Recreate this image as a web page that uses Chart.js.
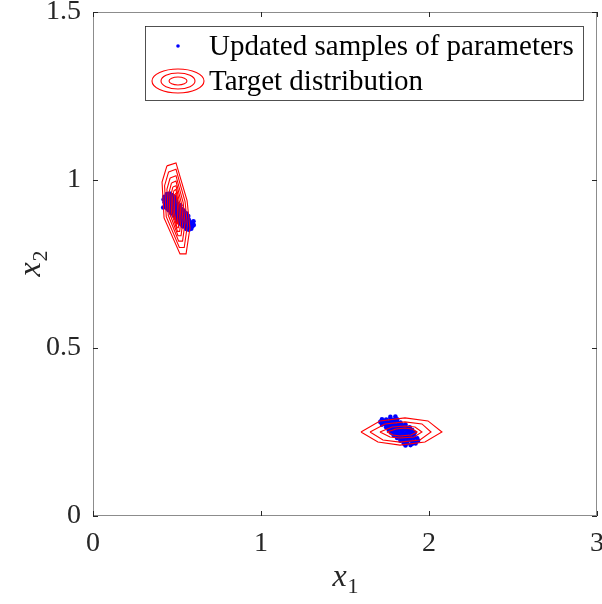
<!DOCTYPE html>
<html>
<head>
<meta charset="utf-8">
<script src="https://cdn.jsdelivr.net/npm/chart.js@4/dist/chart.umd.min.js"></script>
<style>
  html, body { margin: 0; padding: 0; background: #fff; }
  canvas { display: block; }
</style>
</head>
<body>
<canvas id="chart" width="602" height="604"></canvas>
<script>
// axis ranges and tick labels
const xTicks = [0, 1, 2, 3];
const yTicks = [0, 0.5, 1, 1.5];

// updated samples of parameters (x1, x2)
const samplesLeft = [
  [0.44,0.958],[0.456,0.960],[0.47,0.955],
  [0.425,0.950],[0.44,0.948],[0.455,0.951],[0.47,0.947],[0.486,0.949],
  [0.42,0.942],[0.434,0.940],[0.45,0.943],[0.466,0.939],[0.48,0.942],[0.494,0.938],
  [0.426,0.934],[0.44,0.932],[0.456,0.935],[0.47,0.931],[0.485,0.934],[0.50,0.930],
  [0.43,0.926],[0.446,0.924],[0.46,0.927],[0.475,0.923],[0.49,0.926],[0.505,0.922],[0.52,0.925],
  [0.418,0.918],[0.44,0.916],[0.455,0.919],[0.47,0.915],[0.485,0.918],[0.50,0.914],[0.515,0.917],[0.53,0.913],
  [0.45,0.910],[0.465,0.908],[0.48,0.911],[0.495,0.907],[0.51,0.910],[0.525,0.906],[0.54,0.909],
  [0.465,0.902],[0.48,0.900],[0.495,0.903],[0.51,0.899],[0.525,0.902],[0.54,0.898],[0.555,0.901],
  [0.48,0.894],[0.495,0.892],[0.51,0.895],[0.525,0.891],[0.54,0.894],[0.555,0.890],[0.567,0.893],
  [0.495,0.886],[0.51,0.884],[0.525,0.887],[0.54,0.883],[0.555,0.886],[0.57,0.882],
  [0.505,0.878],[0.52,0.876],[0.535,0.879],[0.55,0.875],[0.565,0.878],[0.58,0.874],[0.598,0.877],
  [0.52,0.870],[0.535,0.868],[0.55,0.871],[0.565,0.867],[0.58,0.870],[0.60,0.866],
  [0.535,0.862],[0.55,0.860],[0.565,0.863],[0.58,0.859],[0.592,0.862],
  [0.555,0.854],[0.57,0.852],[0.585,0.855]
];
const samplesRight = [
  [1.77,0.295],[1.80,0.296],
  [1.72,0.288],[1.745,0.287],[1.77,0.289],[1.79,0.286],[1.81,0.288],
  [1.71,0.280],[1.73,0.281],[1.75,0.279],[1.77,0.282],[1.79,0.279],[1.81,0.281],[1.83,0.278],
  [1.72,0.272],[1.74,0.273],[1.76,0.271],[1.78,0.273],[1.80,0.270],[1.82,0.273],[1.84,0.271],[1.86,0.272],
  [1.745,0.264],[1.765,0.265],[1.785,0.263],[1.805,0.265],[1.825,0.262],[1.845,0.265],[1.865,0.263],[1.885,0.264],
  [1.76,0.256],[1.78,0.257],[1.80,0.255],[1.82,0.257],[1.84,0.254],[1.86,0.257],[1.88,0.255],[1.90,0.256],
  [1.775,0.248],[1.795,0.249],[1.815,0.247],[1.835,0.249],[1.855,0.246],[1.875,0.249],[1.895,0.247],[1.915,0.248],
  [1.79,0.240],[1.81,0.241],[1.83,0.239],[1.85,0.241],[1.87,0.238],[1.89,0.241],[1.91,0.239],
  [1.81,0.232],[1.83,0.233],[1.85,0.231],[1.87,0.233],[1.89,0.230],[1.91,0.233],[1.93,0.231],
  [1.83,0.224],[1.85,0.225],[1.87,0.223],[1.89,0.225],[1.91,0.222],[1.935,0.224],
  [1.85,0.216],[1.87,0.217],[1.90,0.215],[1.92,0.216],
  [1.86,0.210],[1.89,0.211]
];

// contour levels of the target distribution (closed polygons, data units)
const contoursLeft = [
  [[0.440,1.042],[0.494,1.051],[0.560,0.939],[0.577,0.857],[0.554,0.780],[0.518,0.780],[0.423,0.887],[0.411,0.994],[0.440,1.042]],
  [[0.450,1.024],[0.494,1.032],[0.548,0.936],[0.562,0.865],[0.543,0.799],[0.514,0.799],[0.436,0.891],[0.426,0.983],[0.450,1.024]],
  [[0.459,1.006],[0.494,1.013],[0.537,0.932],[0.548,0.873],[0.533,0.818],[0.510,0.818],[0.448,0.895],[0.440,0.972],[0.459,1.006]],
  [[0.467,0.991],[0.494,0.997],[0.527,0.929],[0.536,0.880],[0.524,0.834],[0.506,0.834],[0.458,0.898],[0.452,0.962],[0.467,0.991]],
  [[0.475,0.979],[0.494,0.983],[0.518,0.927],[0.524,0.886],[0.516,0.847],[0.503,0.847],[0.468,0.901],[0.464,0.955],[0.475,0.979]],
  [[0.481,0.968],[0.494,0.972],[0.510,0.925],[0.514,0.891],[0.508,0.858],[0.500,0.858],[0.477,0.903],[0.474,0.948],[0.481,0.968]],
  [[0.488,0.958],[0.494,0.961],[0.502,0.923],[0.504,0.895],[0.501,0.869],[0.497,0.869],[0.485,0.905],[0.484,0.942],[0.488,0.958]]
];
const contoursRight = [
  [[1.595,0.250],[1.708,0.283],[1.857,0.292],[1.994,0.283],[2.077,0.250],[1.976,0.220],[1.827,0.211],[1.696,0.220],[1.595,0.250]],
  [[1.649,0.250],[1.738,0.274],[1.857,0.280],[1.958,0.274],[2.012,0.250],[1.946,0.226],[1.827,0.220],[1.726,0.226],[1.649,0.250]],
  [[1.708,0.250],[1.780,0.265],[1.857,0.268],[1.917,0.265],[1.958,0.250],[1.911,0.235],[1.827,0.232],[1.768,0.235],[1.708,0.250]],
  [[1.750,0.250],[1.804,0.259],[1.857,0.262],[1.899,0.259],[1.929,0.250],[1.893,0.241],[1.827,0.238],[1.786,0.241],[1.750,0.250]]
];

const legendLabels = ['Updated samples of parameters', 'Target distribution'];
const sampleColor = '#0000ff';
const contourColor = '#ff0000';
const serif = '"Liberation Serif", "DejaVu Serif", serif';

const toPts = arr => arr.map(p => ({ x: p[0], y: p[1] }));

const datasets = [];
contoursLeft.concat(contoursRight).forEach(ring => {
  datasets.push({
    type: 'line',
    data: toPts(ring),
    borderColor: contourColor,
    borderWidth: 1.1,
    pointRadius: 0,
    fill: false,
    tension: 0,
    order: 0
  });
});
datasets.push({
  type: 'scatter',
  data: toPts(samplesLeft.concat(samplesRight)),
  backgroundColor: sampleColor,
  borderWidth: 0,
  pointRadius: 2.3,
  order: 1
});

// MATLAB-style box, inward ticks, axis titles and legend
const matlabAxes = {
  id: 'matlabAxes',
  afterDatasetsDraw(chart) {
    const { ctx, chartArea: a, scales: { x, y } } = chart;
    ctx.save();
    ctx.strokeStyle = '#8c8c8c';
    ctx.lineWidth = 1;
    ctx.strokeRect(a.left + 0.5, a.top + 0.5, a.right - a.left - 1, a.bottom - a.top - 1);

    ctx.strokeStyle = '#262626';
    const tl = 5;
    ctx.beginPath();
    xTicks.forEach(v => {
      const px = Math.round(x.getPixelForValue(v)) + 0.5;
      ctx.moveTo(px, a.bottom); ctx.lineTo(px, a.bottom - tl);
      ctx.moveTo(px, a.top); ctx.lineTo(px, a.top + tl);
    });
    yTicks.forEach(v => {
      const py = Math.round(y.getPixelForValue(v)) + 0.5;
      ctx.moveTo(a.left, py); ctx.lineTo(a.left + tl, py);
      ctx.moveTo(a.right, py); ctx.lineTo(a.right - tl, py);
    });
    ctx.stroke();

    // axis titles x1, x2
    const drawSub = (cx, cy, sub) => {
      ctx.font = 'italic 32px ' + serif;
      const wx = ctx.measureText('x').width;
      ctx.font = '22px ' + serif;
      const ws = ctx.measureText(sub).width;
      const x0 = cx - (wx + ws) / 2;
      ctx.fillStyle = '#262626';
      ctx.textBaseline = 'alphabetic';
      ctx.textAlign = 'left';
      ctx.font = 'italic 32px ' + serif;
      ctx.fillText('x', x0, cy);
      ctx.font = '22px ' + serif;
      ctx.fillText(sub, x0 + wx + 1, cy + 7);
    };
    drawSub((a.left + a.right) / 2, 586, '1');
    ctx.save();
    ctx.translate(40, (a.top + a.bottom) / 2);
    ctx.rotate(-Math.PI / 2);
    drawSub(0, 0, '2');
    ctx.restore();

    // legend
    const lx = 145, ly = 26, lw = 438, lh = 74;
    ctx.fillStyle = '#ffffff';
    ctx.fillRect(lx, ly, lw, lh);
    ctx.strokeStyle = '#262626';
    ctx.lineWidth = 0.8;
    ctx.strokeRect(lx + 0.5, ly + 0.5, lw, lh);

    ctx.fillStyle = sampleColor;
    ctx.beginPath();
    ctx.arc(178, 46, 1.8, 0, Math.PI * 2);
    ctx.fill();

    ctx.strokeStyle = contourColor;
    ctx.lineWidth = 1.1;
    [[26, 12], [17, 8], [9, 4]].forEach(r => {
      ctx.beginPath();
      ctx.ellipse(178, 81, r[0], r[1], 0, 0, Math.PI * 2);
      ctx.stroke();
    });

    ctx.fillStyle = '#000';
    ctx.font = '29px ' + serif;
    ctx.textBaseline = 'middle';
    ctx.textAlign = 'left';
    ctx.fillText(legendLabels[0], 209, 47);
    ctx.fillText(legendLabels[1], 209, 82);
    ctx.restore();
  }
};

const noPad = s => { s.paddingLeft = 0; s.paddingRight = 0; s.paddingTop = 0; s.paddingBottom = 0; };

new Chart(document.getElementById('chart'), {
  data: { datasets },
  options: {
    responsive: false,
    animation: false,
    plugins: { legend: { display: false }, tooltip: { enabled: false } },
    layout: { padding: { top: 12, right: 5, left: 0, bottom: 0 } },
    scales: {
      x: {
        type: 'linear',
        min: 0, max: 3,
        afterBuildTicks: s => { s.ticks = xTicks.map(v => ({ value: v })); },
        afterFit: s => { s.height = 88; noPad(s); },
        grid: { display: false, drawTicks: false },
        border: { display: false },
        ticks: { color: '#262626', font: { family: serif, size: 28 }, padding: 11, maxRotation: 0, callback: v => String(v) }
      },
      y: {
        type: 'linear',
        min: 0, max: 1.5,
        afterBuildTicks: s => { s.ticks = yTicks.map(v => ({ value: v })); },
        afterFit: s => { s.width = 93; noPad(s); },
        grid: { display: false, drawTicks: false },
        border: { display: false },
        ticks: { color: '#262626', font: { family: serif, size: 28 }, padding: 12, callback: v => String(v) }
      }
    }
  },
  plugins: [matlabAxes]
});
</script>
</body>
</html>
